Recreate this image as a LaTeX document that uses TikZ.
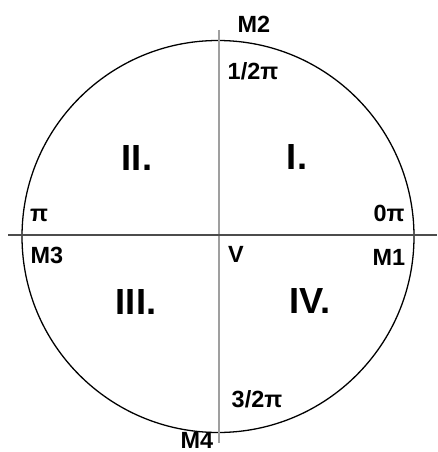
\documentclass[tikz,border=0pt]{standalone}
\usepackage{fontspec}
\setmainfont{Liberation Sans}
\usetikzlibrary{positioning}

\begin{document}
\begin{tikzpicture}[x=0.03cm, y=-0.03cm,
    lbl/.style={font=\fontsize{20}{22}\selectfont\bfseries, inner sep=0pt},
    quad/.style={font=\fontsize{31}{34}\selectfont\bfseries, inner sep=0pt}]
    \useasboundingbox (0,0) rectangle (437,452);

    \coordinate (o) at (218,236.5);
    \coordinate (west) at (8,235);
    \coordinate (east) at (437,235);
    \coordinate (north) at (219,30);
    \coordinate (south) at (219,443);

    \draw[line width=1.1pt] (o) circle (196);
    \draw[gray!75, line width=1.8pt] (north) -- (south);
    \draw[black!70, line width=1.6pt] (west) -- (east);

    \node[lbl] (mtwo) at (254,24) {M2};
    \node[lbl] (half) at (253,71) {1/2π};
    \node[lbl] (pi) at (39,215) {π};
    \node[lbl] (zero) at (389,213) {0π};
    \node[lbl] (mthree) at (47,255) {M3};
    \node[lbl] (mone) at (389,257) {M1};
    \node[lbl] (v) at (236,254) {V};
    \node[lbl] (threehalf) at (257,399) {3/2π};
    \node[lbl] (mfour) at (197,440) {M4};

    \node[quad] (q1) at (297,157) {I.};
    \node[quad] (q2) at (137,158) {II.};
    \node[quad] (q3) at (136,302) {III.};
    \node[quad] (q4) at (310,301) {IV.};
\end{tikzpicture}
\end{document}
